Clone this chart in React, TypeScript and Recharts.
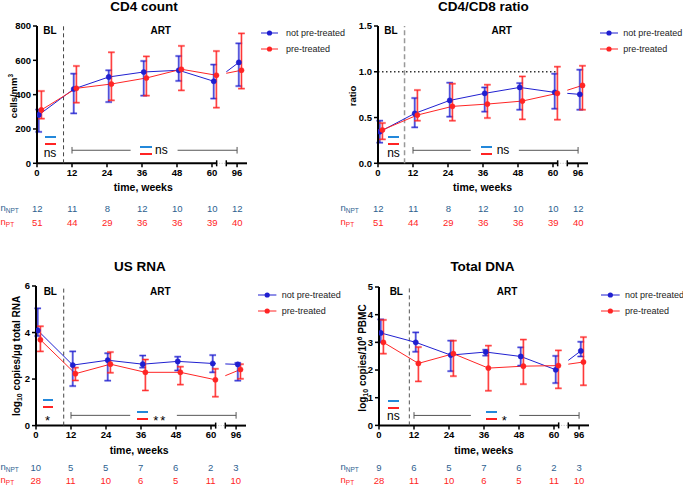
import React from "react";
import { LineChart, Line, XAxis, YAxis, ErrorBar, ReferenceLine } from "recharts";

// ---------- data ----------
const weeks = [0, 12, 24, 36, 48, 60, 96];
const weekLabels = ["0", "12", "24", "36", "48", "60", "96"];

const cd4NptMedian = [282, 433, 503, 532, 542, 478, 588];
const cd4NptLow = [183, 291, 357, 394, 480, 377, 450];
const cd4NptHigh = [313, 522, 542, 596, 625, 575, 699];
const cd4PtMedian = [311, 437, 462, 497, 548, 513, 542];
const cd4PtLow = [260, 353, 367, 394, 425, 324, 435];
const cd4PtHigh = [421, 567, 647, 623, 684, 654, 757];

const ratioNptMedian = [0.345, 0.545, 0.687, 0.764, 0.829, 0.775, 0.753];
const ratioNptLow = [0.225, 0.393, 0.509, 0.564, 0.585, 0.596, 0.585];
const ratioNptHigh = [0.465, 0.713, 0.88, 0.829, 0.876, 0.978, 1.022];
const ratioPtMedian = [0.364, 0.527, 0.622, 0.647, 0.68, 0.764, 0.851];
const ratioPtLow = [0.262, 0.465, 0.465, 0.495, 0.48, 0.476, 0.585];
const ratioPtHigh = [0.44, 0.8, 0.869, 0.858, 0.949, 1.055, 1.065];

const rnaNptMedian = [4.09, 2.6, 2.81, 2.64, 2.76, 2.67, 2.63];
const rnaNptLow = [3.85, 1.7, 1.93, 2.49, 2.37, 2.29, 1.93];
const rnaNptHigh = [5.04, 3.19, 3.11, 3.01, 2.96, 3.03, 2.69];
const rnaPtMedian = [3.69, 2.23, 2.64, 2.29, 2.29, 1.97, 2.41];
const rnaPtLow = [3.19, 1.94, 2.27, 1.51, 1.76, 1.24, 2.01];
const rnaPtHigh = [4.27, 2.49, 3.16, 2.84, 2.53, 2.44, 2.64];

const dnaNptMedian = [3.34, 3.0, 2.54, 2.65, 2.49, 2.01, 2.69];
const dnaNptLow = [3.0, 2.66, 1.96, 2.52, 2.16, 1.53, 2.49];
const dnaNptHigh = [3.83, 3.36, 3.06, 2.73, 2.82, 2.51, 3.02];
const dnaPtMedian = [3.0, 2.24, 2.59, 2.07, 2.14, 2.16, 2.29];
const dnaPtLow = [2.59, 1.59, 1.78, 1.25, 1.49, 1.34, 1.45];
const dnaPtHigh = [3.81, 2.83, 3.06, 2.88, 3.1, 2.71, 3.19];

const cd4NNpt = [12, 11, 8, 12, 10, 10, 12];
const cd4NPt = [51, 44, 29, 36, 36, 39, 40];
const rnaNNpt = [10, 5, 5, 7, 6, 2, 3];
const rnaNPt = [28, 11, 10, 6, 5, 11, 10];
const dnaNNpt = [9, 6, 5, 7, 6, 2, 3];
const dnaNPt = [28, 11, 10, 6, 5, 11, 10];

const cd4Ticks = [0, 200, 400, 600, 800];
const ratioTicks = [0, 0.5, 1.0, 1.5];
const rnaTicks = [0, 2, 4, 6];
const dnaTicks = [0, 1, 2, 3, 4, 5];

// ---------- style / layout ----------
const FONT = '"Liberation Sans", Arial, Helvetica, sans-serif';
const BLUE = "#1f1fd0";
const RED = "#ff2424";
const DASH_BLUE = "#2388da";
const NPT_TEXT = "#2e5f8f";
const BRACKET = "#555";

const X_MAX = 72;
const POS_96 = 68.6; // axis is broken between 60 and 96
const BREAK_START = 61.6;
const BREAK_END = 64.9;
const BLUE_DX = 0.6;
const RED_DX = 1.5;

const Y_W = 37;
const M_TOP = 8;
const M_RIGHT = 6;
const X_H = 32;
const PLOT_W = 210;
const PPU = PLOT_W / X_MAX;
const CHART_W = Y_W + PLOT_W + M_RIGHT;

const axisPos = (w: number) => (w === 96 ? POS_96 : w);
const tickPos = weeks.map(axisPos);

type Stat = { median: number[]; low: number[]; high: number[] };

function buildPoints(s: Stat, dx: number) {
  return weeks.map((w, i) => ({
    x: axisPos(w) + dx,
    y: s.median[i],
    err: [s.median[i] - s.low[i], s.high[i] - s.median[i]],
  }));
}

function tailDash(s: Stat, dx: number, yRange: number, plotH: number) {
  const x1 = 60 + dx;
  const x2 = POS_96 + dx;
  const dxPx = (x2 - x1) * PPU;
  const dyPx = ((s.median[6] - s.median[5]) / yRange) * plotH;
  const L = Math.hypot(dxPx, dyPx);
  const f1 = Math.max(0, (BREAK_START - x1) / (x2 - x1));
  const f2 = Math.max(0, (BREAK_END - x1) / (x2 - x1));
  return `${(f1 * L).toFixed(2)} ${((f2 - f1) * L).toFixed(2)} ${(L * 2).toFixed(2)}`;
}

function Txt(props: any) {
  const { x, y, children, size = 10, weight = 400, color = "#000", anchor = "middle", rotate = false, spacing } = props;
  const tx = anchor === "middle" ? "-50%" : anchor === "end" ? "-100%" : "0";
  return (
    <div
      style={{
        position: "absolute",
        left: x,
        top: y,
        transform: `translate(${tx}, -50%)${rotate ? " rotate(-90deg)" : ""}`,
        fontSize: size,
        fontWeight: weight,
        color,
        lineHeight: 1,
        whiteSpace: "nowrap",
        letterSpacing: spacing,
      }}
    >
      {children}
    </div>
  );
}

function Dash({ x1, x2, y, color }: any) {
  return <div style={{ position: "absolute", left: x1, top: y - 1, width: x2 - x1, height: 2.2, background: color }} />;
}

function LegendItem({ x1, x2, y, color, textX, label }: any) {
  const w = x2 - x1;
  return (
    <>
      <svg style={{ position: "absolute", left: x1, top: y - 4 }} width={w} height={8}>
        <line x1={0} y1={4} x2={w} y2={4} stroke={color} strokeWidth={1} />
        <circle cx={w / 2} cy={4} r={2.6} fill={color} />
      </svg>
      <Txt x={textX} y={y} anchor="start" size={9} color="#222">{label}</Txt>
    </>
  );
}

function Panel(p: any) {
  const { geo, yDomain, yTicks, yFmt, npt, pt } = p;
  const plotH = geo.plotBottom - geo.plotTop;
  const chartH = M_TOP + plotH + X_H;
  const [y0, y1] = yDomain;
  const perPx = (y1 - y0) / plotH;
  const nptPts = buildPoints(npt, BLUE_DX);
  const ptPts = buildPoints(pt, RED_DX);
  const tickStyle = { fontSize: 9.5, fontWeight: 700, fill: "#000", fontFamily: FONT };
  const b = p.bracket;
  const capH = 3.3 * perPx;
  const brkH = 3 * perPx;

  return (
    <>
      <div style={{ position: "absolute", left: geo.axisX - Y_W, top: geo.plotTop - M_TOP }}>
        <LineChart width={CHART_W} height={chartH} margin={{ top: M_TOP, right: M_RIGHT, bottom: 0, left: 0 }}>
          <XAxis
            type="number"
            dataKey="x"
            domain={[0, X_MAX]}
            ticks={tickPos}
            interval={0}
            allowDataOverflow
            tickFormatter={(v: number) => {
              const i = tickPos.findIndex((t) => Math.abs(t - v) < 1e-6);
              return i >= 0 ? weekLabels[i] : "";
            }}
            axisLine={false}
            tickLine={{ stroke: "#000", strokeWidth: 1.5 }}
            tickSize={4}
            tick={tickStyle}
            height={X_H}
          />
          <YAxis
            type="number"
            domain={yDomain}
            ticks={yTicks}
            interval={0}
            allowDataOverflow
            tickFormatter={yFmt}
            width={Y_W}
            axisLine={{ stroke: "#000", strokeWidth: 2 }}
            tickLine={{ stroke: "#000", strokeWidth: 1.5 }}
            tickSize={4}
            tick={tickStyle}
          />
          {/* broken x axis line */}
          <ReferenceLine ifOverflow="visible" segment={[{ x: 0, y: y0 }, { x: BREAK_START, y: y0 }]} stroke="#000" strokeWidth={2} />
          <ReferenceLine ifOverflow="visible" segment={[{ x: BREAK_END, y: y0 }, { x: X_MAX, y: y0 }]} stroke="#000" strokeWidth={2} />
          <ReferenceLine ifOverflow="visible" segment={[{ x: BREAK_START, y: y0 }, { x: BREAK_END, y: y0 }]} stroke="#bbb" strokeWidth={1} strokeDasharray="1 1.5" />
          <ReferenceLine ifOverflow="visible" segment={[{ x: BREAK_START, y: y0 - brkH }, { x: BREAK_START, y: y0 + brkH }]} stroke="#000" strokeWidth={1.5} />
          <ReferenceLine ifOverflow="visible" segment={[{ x: BREAK_END, y: y0 - brkH }, { x: BREAK_END, y: y0 + brkH }]} stroke="#000" strokeWidth={1.5} />
          {/* baseline / therapy start */}
          <ReferenceLine ifOverflow="visible" segment={[{ x: p.vline, y: y0 }, { x: p.vline, y: y1 }]} stroke={p.vlineColor} strokeWidth={p.vlineWidth} strokeDasharray={p.vlineDash} />
          {p.refOne !== undefined && (
            <ReferenceLine ifOverflow="visible" segment={[{ x: 0, y: p.refOne }, { x: BREAK_START, y: p.refOne }]} stroke="#333" strokeWidth={1.5} strokeDasharray="1.5 2.5" />
          )}
          {/* significance bracket */}
          <ReferenceLine ifOverflow="visible" segment={[{ x: 12, y: b.y }, { x: b.leftEnd, y: b.y }]} stroke={BRACKET} strokeWidth={1} />
          <ReferenceLine ifOverflow="visible" segment={[{ x: b.rightStart, y: b.y }, { x: POS_96, y: b.y }]} stroke={BRACKET} strokeWidth={1} />
          <ReferenceLine ifOverflow="visible" segment={[{ x: 12, y: b.y - capH }, { x: 12, y: b.y + capH }]} stroke={BRACKET} strokeWidth={1} />
          <ReferenceLine ifOverflow="visible" segment={[{ x: POS_96, y: b.y - capH }, { x: POS_96, y: b.y + capH }]} stroke={BRACKET} strokeWidth={1} />

          {/* connecting lines */}
          <Line data={nptPts.slice(0, 6)} dataKey="y" stroke={BLUE} strokeWidth={1} dot={false} isAnimationActive={false} />
          <Line data={ptPts.slice(0, 6)} dataKey="y" stroke={RED} strokeWidth={1} dot={false} isAnimationActive={false} />
          <Line data={nptPts.slice(5)} dataKey="y" stroke={BLUE} strokeWidth={1} dot={false} strokeDasharray={tailDash(npt, BLUE_DX, y1 - y0, plotH)} isAnimationActive={false} />
          <Line data={ptPts.slice(5)} dataKey="y" stroke={RED} strokeWidth={1} dot={false} strokeDasharray={tailDash(pt, RED_DX, y1 - y0, plotH)} isAnimationActive={false} />

          {/* points with IQR error bars */}
          <Line data={nptPts} dataKey="y" stroke="none" dot={{ r: 2.6, fill: BLUE, stroke: BLUE, strokeWidth: 0.5 }} isAnimationActive={false}>
            <ErrorBar dataKey="err" width={3.3} stroke="rgba(31,31,208,0.38)" strokeWidth={2.4} />
            <ErrorBar dataKey="err" width={3.3} stroke="rgba(31,31,208,0.85)" strokeWidth={1} />
          </Line>
          <Line data={ptPts} dataKey="y" stroke="none" dot={{ r: 2.6, fill: RED, stroke: RED, strokeWidth: 0.5 }} isAnimationActive={false}>
            <ErrorBar dataKey="err" width={3.3} stroke="rgba(255,36,36,0.38)" strokeWidth={2.4} />
            <ErrorBar dataKey="err" width={3.3} stroke="rgba(255,36,36,0.9)" strokeWidth={1} />
          </Line>
        </LineChart>
      </div>

      {/* texts */}
      <Txt x={p.title.x} y={p.title.y} size={13.5} weight={700}>{p.title.text}</Txt>
      <Txt x={p.yLabel.x} y={p.yLabel.y} size={p.yLabel.size} weight={700} rotate>{p.yLabel.node}</Txt>
      <Txt x={p.xLabel.x} y={p.xLabel.y} size={10.5} weight={700}>time, weeks</Txt>
      <Txt x={p.bl.x} y={p.bl.y} size={10} weight={700}>BL</Txt>
      <Txt x={p.art.x} y={p.art.y} size={10} weight={700}>ART</Txt>

      <LegendItem x1={p.legend.x1} x2={p.legend.x2} y={p.legend.y1} color={BLUE} textX={p.legend.textX} label="not pre-treated" />
      <LegendItem x1={p.legend.x1} x2={p.legend.x2} y={p.legend.y2} color={RED} textX={p.legend.textX} label="pre-treated" />

      {/* significance annotations */}
      <Dash x1={p.blSig.x1} x2={p.blSig.x2} y={p.blSig.yb} color={DASH_BLUE} />
      <Dash x1={p.blSig.x1} x2={p.blSig.x2} y={p.blSig.yr} color={RED} />
      <Txt x={p.blSig.tx} y={p.blSig.ty} size={p.blSig.size} anchor="middle">{p.blSig.text}</Txt>
      <Dash x1={p.artSig.x1} x2={p.artSig.x2} y={p.artSig.yb} color={DASH_BLUE} />
      <Dash x1={p.artSig.x1} x2={p.artSig.x2} y={p.artSig.yr} color={RED} />
      <Txt x={p.artSig.tx} y={p.artSig.ty} size={p.artSig.size} anchor="start" spacing={p.artSig.spacing}>{p.artSig.text}</Txt>

      {/* sample sizes */}
      <Txt x={p.nRows.labelX} y={p.nRows.y1} anchor="start" size={9.5} color={NPT_TEXT}>
        n<span style={{ fontSize: 6.5, verticalAlign: "-2px" }}>NPT</span>
      </Txt>
      <Txt x={p.nRows.labelX} y={p.nRows.y2} anchor="start" size={9.5} color={RED}>
        n<span style={{ fontSize: 6.5, verticalAlign: "-2px" }}>PT</span>
      </Txt>
      {weeks.map((w, i) => (
        <React.Fragment key={w}>
          <Txt x={geo.axisX + axisPos(w) * PPU} y={p.nRows.y1} size={9.5} color={NPT_TEXT}>{p.nNpt[i]}</Txt>
          <Txt x={geo.axisX + axisPos(w) * PPU} y={p.nRows.y2} size={9.5} color={RED}>{p.nPt[i]}</Txt>
        </React.Fragment>
      ))}
    </>
  );
}

export default function App() {
  return (
    <div style={{ position: "absolute", left: 0, top: 0, width: 683, height: 487, background: "#fff", fontFamily: FONT, color: "#000", overflow: "hidden" }}>
      <Panel
        geo={{ axisX: 37.3, plotTop: 25.7, plotBottom: 163 }}
        yDomain={[0, 800]}
        yTicks={cd4Ticks}
        yFmt={(v: number) => String(v)}
        npt={{ median: cd4NptMedian, low: cd4NptLow, high: cd4NptHigh }}
        pt={{ median: cd4PtMedian, low: cd4PtLow, high: cd4PtHigh }}
        nNpt={cd4NNpt}
        nPt={cd4NPt}
        vline={9.1}
        vlineColor="#444"
        vlineWidth={1}
        vlineDash="4 3"
        bracket={{ y: 76, leftEnd: 32.1, rightStart: 48.2 }}
        title={{ text: "CD4 count", x: 144, y: 6.5 }}
        yLabel={{ x: 12.8, y: 96, size: 9.5, node: <>cells/mm<span style={{ fontSize: 6.5, verticalAlign: "4px" }}>3</span></> }}
        xLabel={{ x: 143.3, y: 187.3 }}
        bl={{ x: 50, y: 30.7 }}
        art={{ x: 160.7, y: 30.7 }}
        legend={{ x1: 261, x2: 278, y1: 33.3, y2: 49.3, textX: 286 }}
        blSig={{ x1: 45, x2: 56, yb: 136.7, yr: 144, text: "ns", tx: 50, ty: 153.3, size: 12 }}
        artSig={{ x1: 140, x2: 151.7, yb: 146.7, yr: 153.7, text: "ns", tx: 155, ty: 149.7, size: 12 }}
        nRows={{ labelX: 0.5, y1: 209.3, y2: 222.7 }}
      />
      <Panel
        geo={{ axisX: 378.3, plotTop: 25.7, plotBottom: 163 }}
        yDomain={[0, 1.5]}
        yTicks={ratioTicks}
        yFmt={(v: number) => v.toFixed(1)}
        npt={{ median: ratioNptMedian, low: ratioNptLow, high: ratioNptHigh }}
        pt={{ median: ratioPtMedian, low: ratioPtLow, high: ratioPtHigh }}
        nNpt={cd4NNpt}
        nPt={cd4NPt}
        vline={9.1}
        vlineColor="#999"
        vlineWidth={1.5}
        vlineDash="5 3"
        refOne={1}
        bracket={{ y: 0.142, leftEnd: 31.8, rightStart: 48.3 }}
        title={{ text: "CD4/CD8 ratio", x: 483.3, y: 6.5 }}
        yLabel={{ x: 353, y: 96.3, size: 9.5, node: "ratio" }}
        xLabel={{ x: 482.5, y: 187.3 }}
        bl={{ x: 391, y: 30.7 }}
        art={{ x: 501.7, y: 30.7 }}
        legend={{ x1: 600, x2: 618, y1: 33.3, y2: 49.3, textX: 623.3 }}
        blSig={{ x1: 388.3, x2: 399, yb: 136.7, yr: 144, text: "ns", tx: 393.5, ty: 153.3, size: 12 }}
        artSig={{ x1: 480.7, x2: 491.7, yb: 147, yr: 154, text: "ns", tx: 496.7, ty: 149.7, size: 12 }}
        nRows={{ labelX: 340.5, y1: 209.3, y2: 222.7 }}
      />
      <Panel
        geo={{ axisX: 35.7, plotTop: 285.7, plotBottom: 425.3 }}
        yDomain={[0, 6]}
        yTicks={rnaTicks}
        yFmt={(v: number) => String(v)}
        npt={{ median: rnaNptMedian, low: rnaNptLow, high: rnaNptHigh }}
        pt={{ median: rnaPtMedian, low: rnaPtLow, high: rnaPtHigh }}
        nNpt={rnaNNpt}
        nPt={rnaNPt}
        vline={9.5}
        vlineColor="#444"
        vlineWidth={1}
        vlineDash="4 3"
        bracket={{ y: 0.44, leftEnd: 32.3, rightStart: 48.3 }}
        title={{ text: "US RNA", x: 140, y: 266.7 }}
        yLabel={{ x: 17.3, y: 356, size: 10, node: <>log<span style={{ fontSize: 7, verticalAlign: "-2px" }}>10</span> copies/µg total RNA</> }}
        xLabel={{ x: 139.2, y: 450 }}
        bl={{ x: 50.3, y: 292.3 }}
        art={{ x: 160.3, y: 292.3 }}
        legend={{ x1: 258.3, x2: 276.7, y1: 295, y2: 311, textX: 281.7 }}
        blSig={{ x1: 42.7, x2: 53.3, yb: 400, yr: 407.3, text: "*", tx: 47.5, ty: 419.5, size: 13 }}
        artSig={{ x1: 137.3, x2: 148.3, yb: 411.7, yr: 418.7, text: "**", tx: 153.3, ty: 419.5, size: 13, spacing: 2 }}
        nRows={{ labelX: 0.5, y1: 467.7, y2: 481.3 }}
      />
      <Panel
        geo={{ axisX: 379, plotTop: 287.3, plotBottom: 425.7 }}
        yDomain={[0, 5]}
        yTicks={dnaTicks}
        yFmt={(v: number) => String(v)}
        npt={{ median: dnaNptMedian, low: dnaNptLow, high: dnaNptHigh }}
        pt={{ median: dnaPtMedian, low: dnaPtLow, high: dnaPtHigh }}
        nNpt={dnaNNpt}
        nPt={dnaNPt}
        vline={10.4}
        vlineColor="#555"
        vlineWidth={1}
        vlineDash="4 3"
        bracket={{ y: 0.36, leftEnd: 31.5, rightStart: 48.1 }}
        title={{ text: "Total DNA", x: 482.5, y: 266.7 }}
        yLabel={{ x: 361.7, y: 357.5, size: 10, node: <>log<span style={{ fontSize: 7, verticalAlign: "-2px" }}>10</span> copies/10<span style={{ fontSize: 7, verticalAlign: "4px" }}>6</span> PBMC</> }}
        xLabel={{ x: 483.8, y: 450 }}
        bl={{ x: 396.3, y: 292.3 }}
        art={{ x: 507, y: 292.3 }}
        legend={{ x1: 601, x2: 619.7, y1: 295, y2: 311, textX: 625 }}
        blSig={{ x1: 388.3, x2: 399, yb: 400.7, yr: 408, text: "ns", tx: 393.3, ty: 416.3, size: 12 }}
        artSig={{ x1: 486, x2: 496.7, yb: 411.7, yr: 418.7, text: "*", tx: 501.7, ty: 419.5, size: 13 }}
        nRows={{ labelX: 340.5, y1: 467.7, y2: 481.3 }}
      />
    </div>
  );
}
